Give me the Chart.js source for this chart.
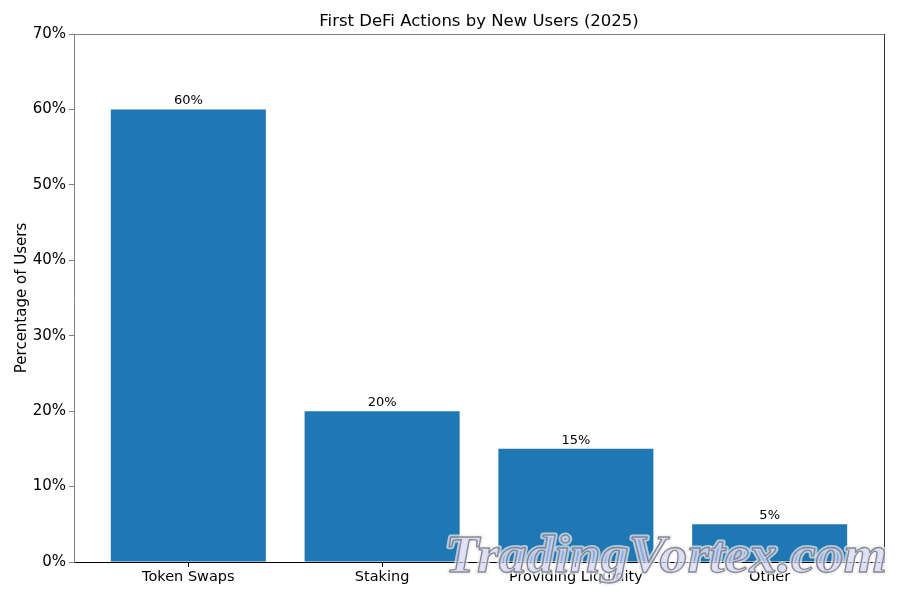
<!DOCTYPE html>
<html>
<head>
<meta charset="utf-8">
<script src="https://cdn.jsdelivr.net/npm/chart.js@4/dist/chart.umd.min.js"></script>
<style>
  html, body { margin: 0; padding: 0; background: #fff; }
</style>
</head>
<body>
<canvas id="chart" width="900" height="600"></canvas>
<script>
// First DeFi actions chart

const categories = ["Token Swaps", "Staking", "Providing Liquidity", "Other"];
const shares = [60, 20, 15, 5];
const yTicks = [0, 10, 20, 30, 40, 50, 60, 70];

const FONT = "'DejaVu Sans', sans-serif";

// title, value labels, frame and watermark
const extras = {
  id: "extras",
  afterDatasetsDraw(chart) {
    const ctx = chart.ctx;
    const meta = chart.getDatasetMeta(0);
    ctx.save();
    ctx.font = "13px " + FONT;
    ctx.fillStyle = "#000";
    ctx.textAlign = "center";
    ctx.textBaseline = "bottom";
    meta.data.forEach((bar, i) => {
      ctx.fillText(shares[i] + "%", bar.x, bar.y - 2);
    });
    ctx.restore();
  },
  afterDraw(chart) {
    const ctx = chart.ctx;
    const a = chart.chartArea;
    ctx.save();
    // frame top/right
    ctx.lineWidth = 1;
    ctx.strokeStyle = "#808080";
    ctx.beginPath();
    ctx.moveTo(a.left, a.top + 0.5);
    ctx.lineTo(a.right, a.top + 0.5);
    ctx.stroke();
    ctx.strokeStyle = "#333";
    ctx.beginPath();
    ctx.moveTo(a.right + 0.5, a.top);
    ctx.lineTo(a.right + 0.5, a.bottom);
    ctx.stroke();

    // title
    ctx.font = "16.5px " + FONT;
    ctx.fillStyle = "#000";
    ctx.textAlign = "center";
    ctx.textBaseline = "middle";
    ctx.fillText("First DeFi Actions by New Users (2025)", (a.left + a.right) / 2, 21.5);

    // watermark
    const text = "TradingVortex.com";
    ctx.font = "italic bold 52px 'Liberation Serif', 'DejaVu Serif', serif";
    const w = ctx.measureText(text).width;
    const sx = 442 / w;
    ctx.translate(445, 572);
    ctx.scale(sx, 1);
    ctx.textAlign = "left";
    ctx.textBaseline = "alphabetic";
    ctx.lineJoin = "round";
    ctx.lineWidth = 5;
    ctx.strokeStyle = "rgba(240,240,240,0.7)";
    ctx.strokeText(text, 0, 0);
    ctx.fillStyle = "rgba(205,210,245,0.6)";
    ctx.fillText(text, 0, 0);
    ctx.lineWidth = 1.3;
    ctx.strokeStyle = "rgba(120,120,130,0.85)";
    ctx.strokeText(text, 0, 0);
    ctx.restore();
  }
};

new Chart(document.getElementById("chart"), {
  type: "bar",
  data: {
    datasets: [{
      data: categories.map((c, i) => ({ x: i, y: shares[i] })),
      backgroundColor: "#1f77b4",
      borderWidth: 0,
      categoryPercentage: 0.8,
      barPercentage: 1.0
    }]
  },
  options: {
    responsive: false,
    animation: false,
    layout: { padding: { top: 34, right: 16, left: 0, bottom: 0 } },
    plugins: {
      legend: { display: false },
      tooltip: { enabled: false }
    },
    scales: {
      x: {
        type: "linear",
        min: -0.59,
        max: 3.59,
        offset: false,
        afterBuildTicks: scale => { scale.ticks = categories.map((c, i) => ({ value: i })); },
        afterFit: scale => { scale.height = 38; },
        grid: { offset: false, drawOnChartArea: false, drawTicks: true, tickLength: 5, color: "#000" },
        border: { color: "#000" },
        ticks: {
          color: "#000",
          font: { family: FONT, size: 14.5 },
          padding: 2,
          maxRotation: 0,
          autoSkip: false,
          callback: v => categories[v]
        }
      },
      y: {
        min: 0,
        max: 70,
        afterBuildTicks: scale => { scale.ticks = yTicks.map(v => ({ value: v })); },
        afterFit: scale => { scale.width = 74; },
        grid: { drawOnChartArea: false, drawTicks: true, tickLength: 5, color: "#808080" },
        border: { color: "#808080" },
        ticks: {
          color: "#000",
          font: { family: FONT, size: 15 },
          padding: 3,
          callback: v => v + "%"
        },
        title: {
          display: true,
          text: "Percentage of Users",
          color: "#000",
          font: { family: FONT, size: 15 },
          padding: { top: 13, bottom: 0 }
        }
      }
    }
  },
  plugins: [extras]
});
</script>
</body>
</html>
